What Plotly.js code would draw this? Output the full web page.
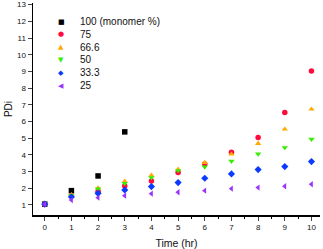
<!DOCTYPE html>
<html><head><meta charset="utf-8">
<script src="https://cdn.plot.ly/plotly-3.0.1.min.js"></script>
<style>html,body{margin:0;padding:0;background:#fff}#c{width:323px;height:249px}</style>
</head><body><div id="c"></div>
<script>
var time = [0,1,2,3,4,5,6,7,8,9,10];
var time100 = [0,1,2,3];
var names = ["100 (monomer %)","75","66.6","50","33.3","25"];
var pdi100 = [1.05,1.86,2.74,5.38];
var pdi75 = [1.05,1.55,1.82,2.14,2.44,2.94,3.45,4.16,5.04,6.54,9.02];
var pdi666 = [1.05,1.62,2.02,2.42,2.78,3.14,3.54,4.04,4.68,5.54,6.74];
var pdi50 = [1.05,1.58,1.96,2.3,2.64,3.06,3.28,3.62,4.06,4.44,4.94];
var pdi333 = [1.05,1.48,1.7,1.9,2.1,2.34,2.6,2.86,3.12,3.3,3.6];
var pdi25 = [1.05,1.3,1.44,1.56,1.68,1.76,1.86,1.98,2.04,2.12,2.24];

var colors = ["#000000","#ff0a3a","#ffaa00","#33ee00","#0a3aff","#9a33ff"];
var symbols = ["square","circle","triangle-up","triangle-down","diamond","triangle-left"];
var glyphs = ["\u25A0","\u25CF","\u25B2","\u25BC","\u25C6","\u25C0"];
var xs = [time100,time,time,time,time,time];
var ys = [pdi100,pdi75,pdi666,pdi50,pdi333,pdi25];

var traces = [];
for (var i=0;i<6;i++){
  traces.push({x:xs[i], y:ys[i], type:"scatter", mode:"markers", name:names[i],
    marker:{symbol:symbols[i], color:colors[i], size:5.5, line:{width:0}}, showlegend:false});
}
var ann = [];
for (var j=0;j<6;j++){
  var py = 21.5 + 12.8*j;
  var yp = (215-py)/212;
  ann.push({xref:"paper",yref:"paper",x:(61-33)/287,y:yp,text:glyphs[j],showarrow:false,
    xanchor:"center",yanchor:"middle",font:{family:"DejaVu Sans",size:7,color:colors[j]}});
  ann.push({xref:"paper",yref:"paper",x:(78-33)/287,y:yp,text:names[j],showarrow:false,
    xanchor:"left",yanchor:"middle",font:{family:"Liberation Sans, Arial",size:10,color:"#111"}});
}
var layout = {
  width:323, height:249,
  margin:{l:33,r:3,t:3,b:34},
  paper_bgcolor:"#fff", plot_bgcolor:"#fff",
  font:{family:"Liberation Sans, Arial", size:8, color:"#111"},
  xaxis:{range:[-0.44,10.32], tickmode:"array", tickvals:time, ticks:"outside", ticklen:4, tickwidth:1,
    showline:true, linecolor:"#000", linewidth:1.5, showgrid:false, zeroline:false,
    minor:{dtick:0.5, tick0:0, ticks:"outside", ticklen:2, tickcolor:"#000"},
    tickfont:{size:8}, title:{text:"Time (hr)", font:{size:10.5}, standoff:8}},
  yaxis:{range:[0.4,13.1], dtick:1, tick0:0, ticks:"outside", ticklen:4, tickwidth:1,
    showline:true, linecolor:"#000", linewidth:1.5, showgrid:false, zeroline:false,
    tickfont:{size:8}, title:{text:"PDi", font:{size:10}, standoff:2}},
  annotations:ann, showlegend:false
};
Plotly.newPlot("c", traces, layout, {displayModeBar:false, staticPlot:true});
</script></body></html>
